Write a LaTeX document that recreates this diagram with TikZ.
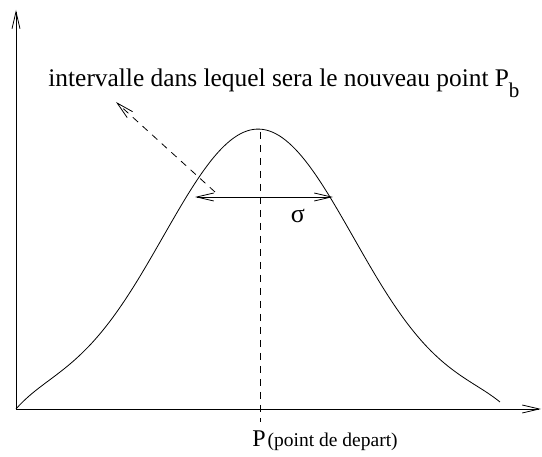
\documentclass[tikz,border=0pt]{standalone}
\usepackage{fontspec}
\setmainfont{Liberation Serif}
\usetikzlibrary{arrows.meta}
\begin{document}
\begin{tikzpicture}[x=1pt,y=-1pt,line width=0.8pt,
  barb/.style={-{Straight Barb[length=17pt,width=8pt,line width=0.8pt]}},
  dbarb/.style={{Straight Barb[length=17pt,width=8pt,line width=0.8pt]}-{Straight Barb[length=17pt,width=8pt,line width=0.8pt]}},
  dashline/.style={dash pattern=on 7pt off 6pt},
  lbl/.style={inner sep=0pt,anchor=base west}]
\useasboundingbox (0,0) rectangle (542,457);
\coordinate (O) at (16,409);
\coordinate (Ytop) at (16,10);
\coordinate (Xend) at (541,409);
\draw[barb] (O) -- (Ytop);
\draw[barb] (O) -- (Xend);
% curve
\draw[line width=0.8pt] plot[domain=16:500,samples=150,smooth]
  (\x,{409 - 288*(exp(-0.5*((\x-258)/97)^2) - 0.0445) - 0.8*(\x-16)*exp(-(\x-16)/45) - 0.5*(500-\x)*exp(-(500-\x)/40) - 7*(\x-16)/484});
% dashed vertical
\coordinate (Vtop) at (260,132);
\coordinate (Vbot) at (260,422);
\draw[dashline] (Vtop) -- (Vbot);
% sigma interval
\coordinate (Sl) at (195,197);
\coordinate (Sr) at (333,197);
\draw[dbarb] (Sl) -- (Sr);
\node[inner sep=0pt] (sig) at (298,216) {\fontsize{26}{30}\selectfont σ};
% dashed arrow
\coordinate (Da) at (215,192);
\coordinate (Db) at (116,102);
\draw[dashline,barb] (Da) -- (Db);
% labels
\node[lbl] (t1) at (48,87) {\fontsize{25.4}{30}\selectfont intervalle dans lequel sera le nouveau point P\raisebox{-11pt}{\fontsize{21}{24}\selectfont b}};
\node[lbl] (t2) at (252,447) {\fontsize{24}{28}\selectfont P\hspace{2pt}\fontsize{19.5}{22}\selectfont (point de depart)};
\end{tikzpicture}
\end{document}
